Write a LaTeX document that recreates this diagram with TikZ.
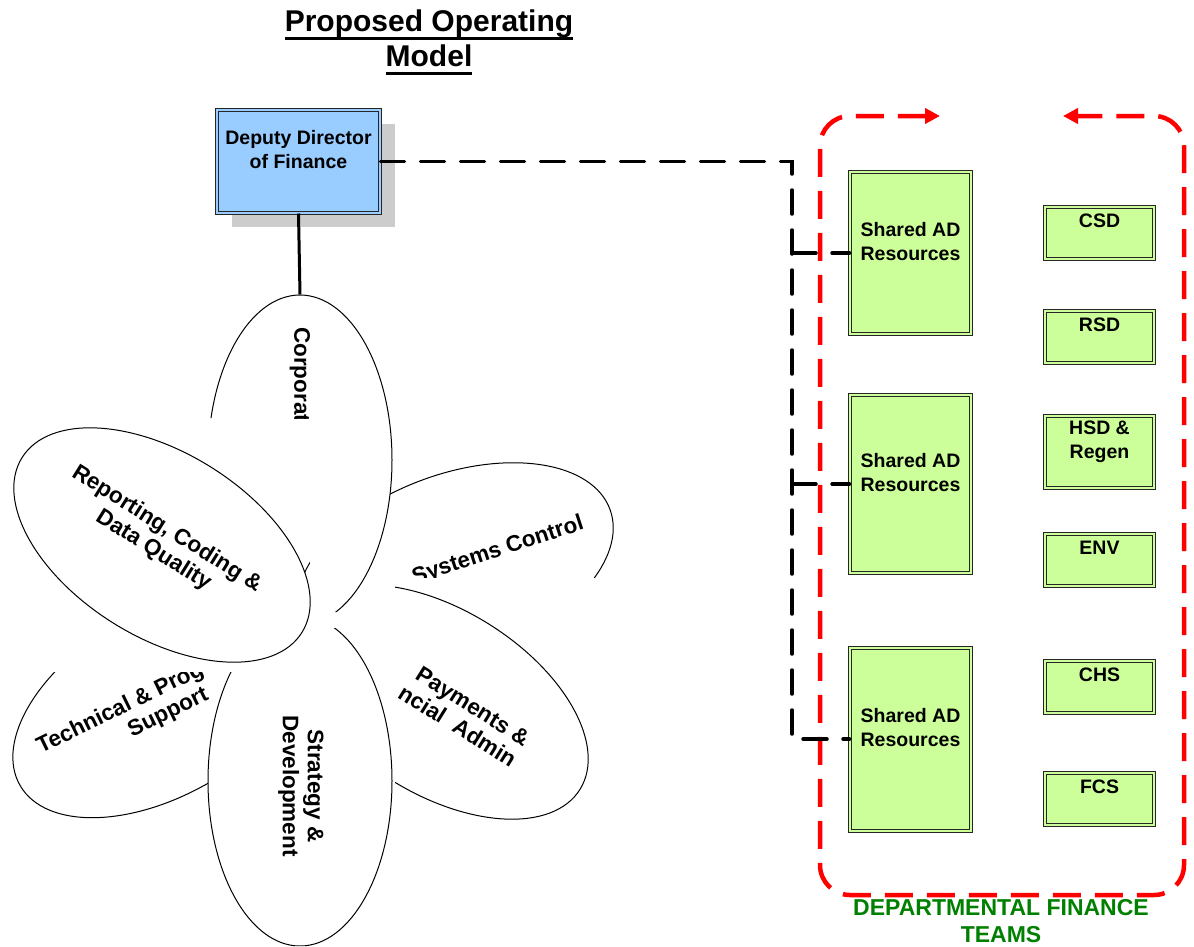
\documentclass[tikz,border=0pt]{standalone}
\usepackage{fontspec}
\setmainfont{Liberation Sans}
\usetikzlibrary{shapes.geometric, arrows.meta, shadows}

\definecolor{ddblue}{RGB}{153,204,255}
\definecolor{adgreen}{RGB}{204,255,153}
\definecolor{teamgreen}{RGB}{0,128,0}

\newcommand{\titleline}[1]{\leavevmode\vtop{\hbox{#1\vphantom{g}}\kern-0.5pt\hrule height 2.5pt}}

\tikzstyle{director} = [rectangle, minimum width=163pt, minimum height=103pt, align=center, draw=black!85, line width=1pt, double=ddblue, double distance=2pt, fill=ddblue, font=\fontsize{19.5}{24}\selectfont\bfseries, drop shadow={shadow xshift=15pt, shadow yshift=-14pt, fill=black!20, opacity=1}]
\tikzstyle{shared} = [rectangle, minimum width=121pt, align=center, draw=black!85, line width=1pt, double=adgreen, double distance=2pt, fill=adgreen, font=\fontsize{19.5}{24}\selectfont\bfseries]
\tikzstyle{dept} = [shared, minimum width=109pt, minimum height=52pt]
\tikzstyle{petal} = [ellipse, draw, fill=white, line width=1pt, minimum width=330pt, minimum height=184pt, inner sep=0pt]
\tikzstyle{petaltext} = [inner sep=0pt, align=center, font=\fontsize{22.5}{25}\selectfont\bfseries]
\tikzstyle{link} = [line width=3pt]
\tikzstyle{dashlink} = [line width=3.5pt, dash pattern=on 24pt off 16pt, line cap=round]
\tikzstyle{teamframe} = [red, line width=4.5pt, dash pattern=on 28pt off 14pt, rounded corners=30pt, <->, >={Triangle[length=15pt,width=15pt]}]

\begin{document}
\begin{tikzpicture}[x=1pt, y=1pt, node distance=110pt]
\useasboundingbox (0,0) rectangle (1194,-946);

\node (title) [align=center, font=\fontsize{30}{35}\selectfont\bfseries] at (429,-42) {\titleline{Proposed Operating}\\\titleline{Model}};

\node (dd) [director] at (298.5,-161.5) {Deputy Director\\of Finance\\\mbox{}};

% petals, back to front
\begin{scope}
  \clip (0,-577) rectangle (1194,0);
  \node (sys) [petal, rotate=20] at (455,-566) {};
  \node (syslabel) [petaltext, rotate=18] at (498,-551) {Systems Control};
\end{scope}
\begin{scope}
  \clip (395,-946) rectangle (1194,0);
  \node (pay) [petal, rotate=-32] at (440,-702) {};
  \node (paylabel) [petaltext, align=right, rotate=-32, anchor=east] at (521,-751) {Payments \&\\ncial\ \ Admin};
\end{scope}
\begin{scope}
  \clip (0,-946) rectangle (1194,-672);
  \node (tech) [petal, rotate=30] at (163,-703) {};
  \node (techlabel) [petaltext, align=right, rotate=26, anchor=east] at (208,-680) {Technical \& Prog\\Support\kern7pt};
\end{scope}
\begin{scope}
  \clip (0,-946) -- (0,-672) -- (300,-672) -- (300,-628) -- (1194,-628) -- (1194,-946) -- cycle;
  \node (strat) [petal, minimum width=184pt, minimum height=330pt] at (300,-781) {};
  \node (stratlabel) [petaltext, rotate=-90] at (301,-786) {Strategy \&\\Development};
\end{scope}
\begin{scope}
  \clip (0,0) -- (1194,0) -- (1194,-612) -- (310,-612) -- (310,-418) -- (0,-418) -- cycle;
  \node (corp) [petal, minimum width=184pt, minimum height=330pt] at (300,-460) {};
  \node (corplabel) [petaltext, rotate=-90, anchor=west] at (300,-327) {Corporat};
\end{scope}
\node (rep) [petal, rotate=-32] at (162,-545) {};
\node (replabel) [petaltext, rotate=-32] at (160,-540) {Reporting, Coding \&\\Data Quality};

\draw [link] (dd.south) -- (corp.north);

% finance teams
\node (sh1) [shared, minimum height=162pt] at (910.5,-253) {Shared AD\\Resources\\\mbox{}};
\node (sh2) [shared, minimum height=178pt, below of = sh1, yshift=-121pt] {Shared AD\\Resources\\\mbox{}};
\node (sh3) [shared, minimum height=183pt, below of = sh2, yshift=-145pt] {Shared AD\\Resources\\\mbox{}};

\node (csd) [dept] at (1099.5,-232.5) {CSD\\\mbox{}};
\node (rsd) [dept, below of = csd, yshift=6pt] {RSD\\\mbox{}};
\node (hsd) [dept, minimum height=72pt, below of = rsd, yshift=-5.5pt] {HSD \&\\Regen\\\mbox{}};
\node (env) [dept, below of = hsd, yshift=2pt] {ENV\\\mbox{}};
\node (chs) [dept, below of = env, yshift=-16.5pt] {CHS\\\mbox{}};
\node (fcs) [dept, below of = chs, yshift=-2pt] {FCS\\\mbox{}};

\draw [teamframe] (940,-116) -| (820,-895) -| (1184,-116) -- (1063,-116);
\node (teams) [align=center, text=teamgreen, font=\fontsize{23}{27}\selectfont\bfseries] at (1001,-921) {DEPARTMENTAL FINANCE\\TEAMS};

\coordinate (bus) at (792,0);
\draw [dashlink] (dd.east) -| (bus |- sh3.west) -- (sh3.west);
\draw [dashlink] (bus |- sh1.west) -- (sh1.west);
\draw [dashlink] (bus |- sh2.west) -- (sh2.west);
\end{tikzpicture}
\end{document}
